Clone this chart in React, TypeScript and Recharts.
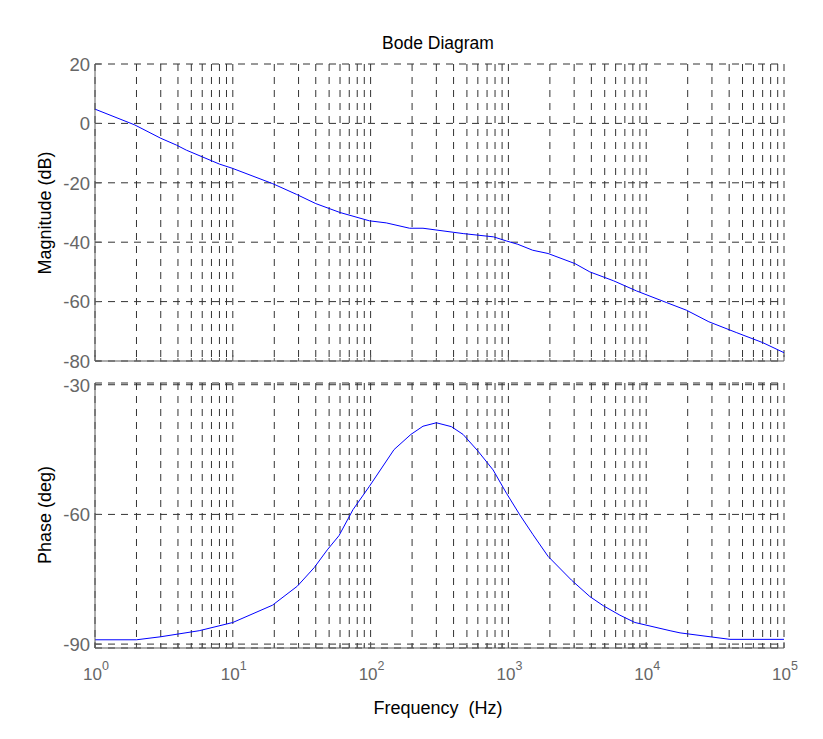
import { LineChart, Line, XAxis, YAxis, CartesianGrid } from "recharts";

// magnitude response
const magFreq = [1, 1.94, 3, 3.9, 4.6, 8, 9.9, 19.5, 29, 40, 60, 98, 130, 192, 240, 470, 780, 970, 1170, 1500, 1940, 3040, 3900, 5800, 8500, 14000, 19600, 28500, 45000, 70000, 100000];
const magDb = [4.8, -0.5, -5, -7.3, -9, -13.7, -15.1, -20.3, -23.9, -27, -30, -32.8, -33.5, -35.3, -35.3, -37.1, -38.2, -39.6, -40.7, -42.7, -43.8, -47.2, -50, -53, -56.4, -60.3, -62.9, -66.8, -70.4, -73.8, -77.2];

// phase response
const phaseFreq = [1, 2, 3, 5.7, 10, 19.4, 29.4, 39, 48.5, 59, 74.5, 98, 148, 196, 240, 300, 386, 469, 603, 774, 968, 1210, 1510, 1940, 2870, 3900, 4870, 6440, 8280, 14900, 17600, 40500, 100000];
const phaseDeg = [-89, -89, -88.3, -86.9, -85, -81, -76.6, -72.3, -68.2, -64.9, -58.9, -53.5, -45, -41.5, -39.6, -38.8, -39.7, -41.5, -45.4, -49.7, -55.1, -60.1, -64.7, -69.7, -75.2, -79, -81.1, -83.3, -85, -86.9, -87.4, -88.9, -88.9];

// tick labels / grid
const decades = [1, 10, 100, 1000, 10000];
const steps = [1, 2, 3, 4, 5, 6, 7, 8, 9];
const freqTicks = [...decades.flatMap((d) => steps.map((s) => s * d)), 100000];
const magTicks = [20, 0, -20, -40, -60, -80];
const phaseTicks = [-30, -60, -90];

const magData = magFreq.map((f, i) => ({ f, v: magDb[i] }));
const phaseData = phaseFreq.map((f, i) => ({ f, v: phaseDeg[i] }));

const AXIS = "#5a5a5a";
const GRID = "#333";
const TICK_TEXT = "#666";
const FONT = "'Liberation Sans', Arial, sans-serif";

const isMajor = (v: number) => Math.abs(Math.log10(v) - Math.round(Math.log10(v))) < 1e-9;

function BottomTick(props: any) {
  const { x, y, payload, showLabel } = props;
  const v = payload.value;
  const major = isMajor(v);
  const len = major ? 6 : 3;
  return (
    <g>
      <line x1={x} x2={x} y1={y} y2={y - len} stroke={AXIS} />
      {showLabel && major && (
        <text x={x + 1} y={y + 32} textAnchor="middle" fontSize={17} fill={TICK_TEXT} fontFamily={FONT}>
          10
          <tspan dy={-10} fontSize={12.5}>
            {Math.round(Math.log10(v))}
          </tspan>
        </text>
      )}
    </g>
  );
}

function TopTick(props: any) {
  const { x, y, payload } = props;
  const len = isMajor(payload.value) ? 6 : 3;
  return <line x1={x} x2={x} y1={y} y2={y + len} stroke={AXIS} />;
}

function LeftTick(props: any) {
  const { x, y, payload } = props;
  return (
    <g>
      <line x1={x} x2={x + 6} y1={y} y2={y} stroke={AXIS} />
      <text x={x - 5} y={y} dy={6.8} textAnchor="end" fontSize={18.5} fill={TICK_TEXT} fontFamily={FONT}>
        {payload.value}
      </text>
    </g>
  );
}

function RightTick(props: any) {
  const { x, y } = props;
  return <line x1={x} x2={x - 6} y1={y} y2={y} stroke={AXIS} />;
}

function Panel({
  data,
  domain,
  yTicks,
  height,
  margin,
  xHeight,
  showX,
}: {
  data: { f: number; v: number }[];
  domain: [number, number];
  yTicks: number[];
  height: number;
  margin: { top: number; right: number; bottom: number; left: number };
  xHeight: number;
  showX: boolean;
}) {
  return (
    <LineChart width={823} height={height} data={data} margin={margin}>
      <CartesianGrid stroke={GRID} strokeDasharray="7 6" strokeWidth={1} />
      <XAxis
        dataKey="f"
        type="number"
        scale="log"
        domain={[1, 100000]}
        allowDataOverflow
        ticks={freqTicks}
        interval={0}
        height={xHeight}
        tickSize={0}
        tickMargin={0}
        tickLine={false}
        stroke={AXIS}
        tick={(p: any) => <BottomTick {...p} showLabel={showX} />}
      />
      <XAxis
        xAxisId="t"
        orientation="top"
        dataKey="f"
        type="number"
        scale="log"
        domain={[1, 100000]}
        allowDataOverflow
        ticks={freqTicks}
        interval={0}
        height={0}
        tickSize={0}
        tickMargin={0}
        tickLine={false}
        stroke={AXIS}
        tick={(p: any) => <TopTick {...p} />}
      />
      <YAxis
        type="number"
        domain={domain}
        allowDataOverflow
        ticks={yTicks}
        interval={0}
        width={95}
        tickSize={0}
        tickMargin={0}
        tickLine={false}
        stroke={AXIS}
        tick={(p: any) => <LeftTick {...p} />}
      />
      <YAxis
        yAxisId="r"
        orientation="right"
        type="number"
        domain={domain}
        allowDataOverflow
        ticks={yTicks}
        interval={0}
        width={0}
        tickSize={0}
        tickMargin={0}
        tickLine={false}
        stroke={AXIS}
        tick={(p: any) => <RightTick {...p} />}
      />
      <Line
        dataKey="v"
        type="linear"
        stroke="#0000ff"
        strokeWidth={1}
        dot={false}
        isAnimationActive={false}
      />
    </LineChart>
  );
}

export default function App() {
  return (
    <div
      style={{
        position: "absolute",
        left: 0,
        top: 0,
        width: 823,
        height: 739,
        background: "#fff",
        fontFamily: FONT,
      }}
    >
      {/* magnitude panel (taller than needed so the -80 label is not clipped) */}
      <div style={{ position: "absolute", left: 0, top: 0 }}>
        <Panel
          data={magData}
          domain={[-80, 20]}
          yTicks={magTicks}
          height={382}
          margin={{ top: 64, right: 39, bottom: 12, left: 0 }}
          xHeight={9}
          showX={false}
        />
      </div>
      {/* phase panel */}
      <div style={{ position: "absolute", left: 0, top: 370 }}>
        <Panel
          data={phaseData}
          domain={[-90.9, -29.6]}
          yTicks={phaseTicks}
          height={369}
          margin={{ top: 13, right: 39, bottom: 41, left: 0 }}
          xHeight={50}
          showX={true}
        />
      </div>
      <svg
        width={823}
        height={739}
        style={{ position: "absolute", left: 0, top: 0, pointerEvents: "none" }}
      >
        <text x={438} y={49} textAnchor="middle" fontSize={17.5} fill="#000" fontFamily={FONT}>
          Bode Diagram
        </text>
        <text x={438} y={714} textAnchor="middle" fontSize={18} fill="#000" fontFamily={FONT} xmlSpace="preserve">
          Frequency  (Hz)
        </text>
        <text
          x={45}
          y={213}
          textAnchor="middle"
          fontSize={18}
          fill="#000"
          fontFamily={FONT}
          transform="rotate(-90 45 213)"
          dy={6}
        >
          Magnitude (dB)
        </text>
        <text
          x={45}
          y={515}
          textAnchor="middle"
          fontSize={18}
          fill="#000"
          fontFamily={FONT}
          transform="rotate(-90 45 515)"
          dy={6}
        >
          Phase (deg)
        </text>
      </svg>
    </div>
  );
}
